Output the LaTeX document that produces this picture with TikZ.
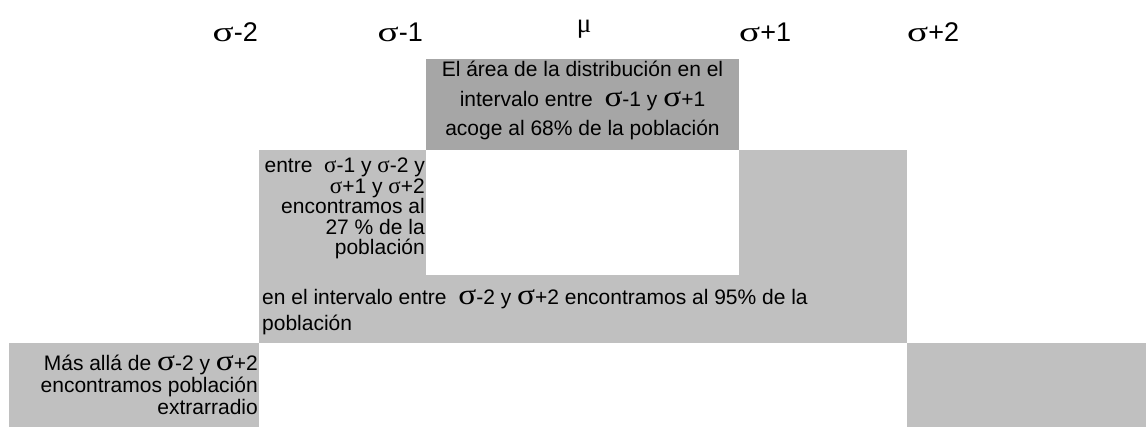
\documentclass[tikz,border=0pt]{standalone}
\usepackage{fontspec}
\setmainfont{Liberation Sans}
\newfontfamily\sigfont{Liberation Serif}
\definecolor{darkcell}{RGB}{166,166,166}
\definecolor{lightcell}{RGB}{192,192,192}
\newcommand{\sg}{{\sigfont\fontsize{23}{23}\selectfont σ}}
\newcommand{\bigsg}{{\sigfont\fontsize{29}{29}\selectfont\scalebox{1.15}[1]{σ}}}
\newcommand{\headsg}{{\sigfont\fontsize{28}{28}\selectfont\scalebox{1.4}[1]{σ}}}
\begin{document}
\begin{tikzpicture}[x=1pt,y=1pt,font=\fontsize{21}{23}\selectfont]
		\tikzstyle{every node}+=[inner sep=0pt]
		\tikzstyle{head}=[font=\fontsize{27}{27}\selectfont]
		\useasboundingbox (0,0) rectangle (1146,-427);
		\fill [darkcell] (426,-59) rectangle (739,-150);
		\fill [lightcell] (259,-150) rectangle (426,-275);
		\fill [lightcell] (739,-150) rectangle (907,-343);
		\fill [lightcell] (259,-275) rectangle (907,-343);
		\fill [lightcell] (9,-343) rectangle (259,-427);
		\fill [lightcell] (907,-343) rectangle (1146,-427);
		\node (sm2) at (258,-42) [head,anchor=base east] {\headsg-2};
		\node (sm1) at (423,-42) [head,anchor=base east] {\headsg-1};
		\node (mu) at (584,-33) [head,anchor=base] {\sigfont μ};
		\node (sp1) at (739,-42) [head,anchor=base west] {\headsg+1};
		\node (sp2) at (907,-42) [head,anchor=base west] {\headsg+2};
		\node (cen1) at (582.5,-77) [anchor=base] {El área de la distribución en el};
		\node (cen2) at (582.5,-107) [anchor=base] {intervalo entre\ \ \bigsg-1 y \bigsg+1};
		\node (cen3) at (582.5,-136) [anchor=base] {acoge al 68\% de la población};
		\node (mid1) at (425,-173) [anchor=base east] {entre\ \ \sg-1 y \sg-2 y};
		\node (mid2) at (425,-193.5) [anchor=base east] {\sg+1 y \sg+2};
		\node (mid3) at (425,-214) [anchor=base east] {encontramos al};
		\node (mid4) at (425,-234.5) [anchor=base east] {27 \% de la};
		\node (mid5) at (425,-255) [anchor=base east] {población};
		\node (band1) at (262,-305) [anchor=base west] {en el intervalo entre\ \ \bigsg-2 y \bigsg+2 encontramos al 95\% de la};
		\node (band2) at (262,-331) [anchor=base west] {población};
		\node (out1) at (258,-371) [anchor=base east] {Más allá de \bigsg-2 y \bigsg+2};
		\node (out2) at (258,-393) [anchor=base east] {encontramos población};
		\node (out3) at (258,-415) [anchor=base east] {extrarradio};
	\end{tikzpicture}
\end{document}
